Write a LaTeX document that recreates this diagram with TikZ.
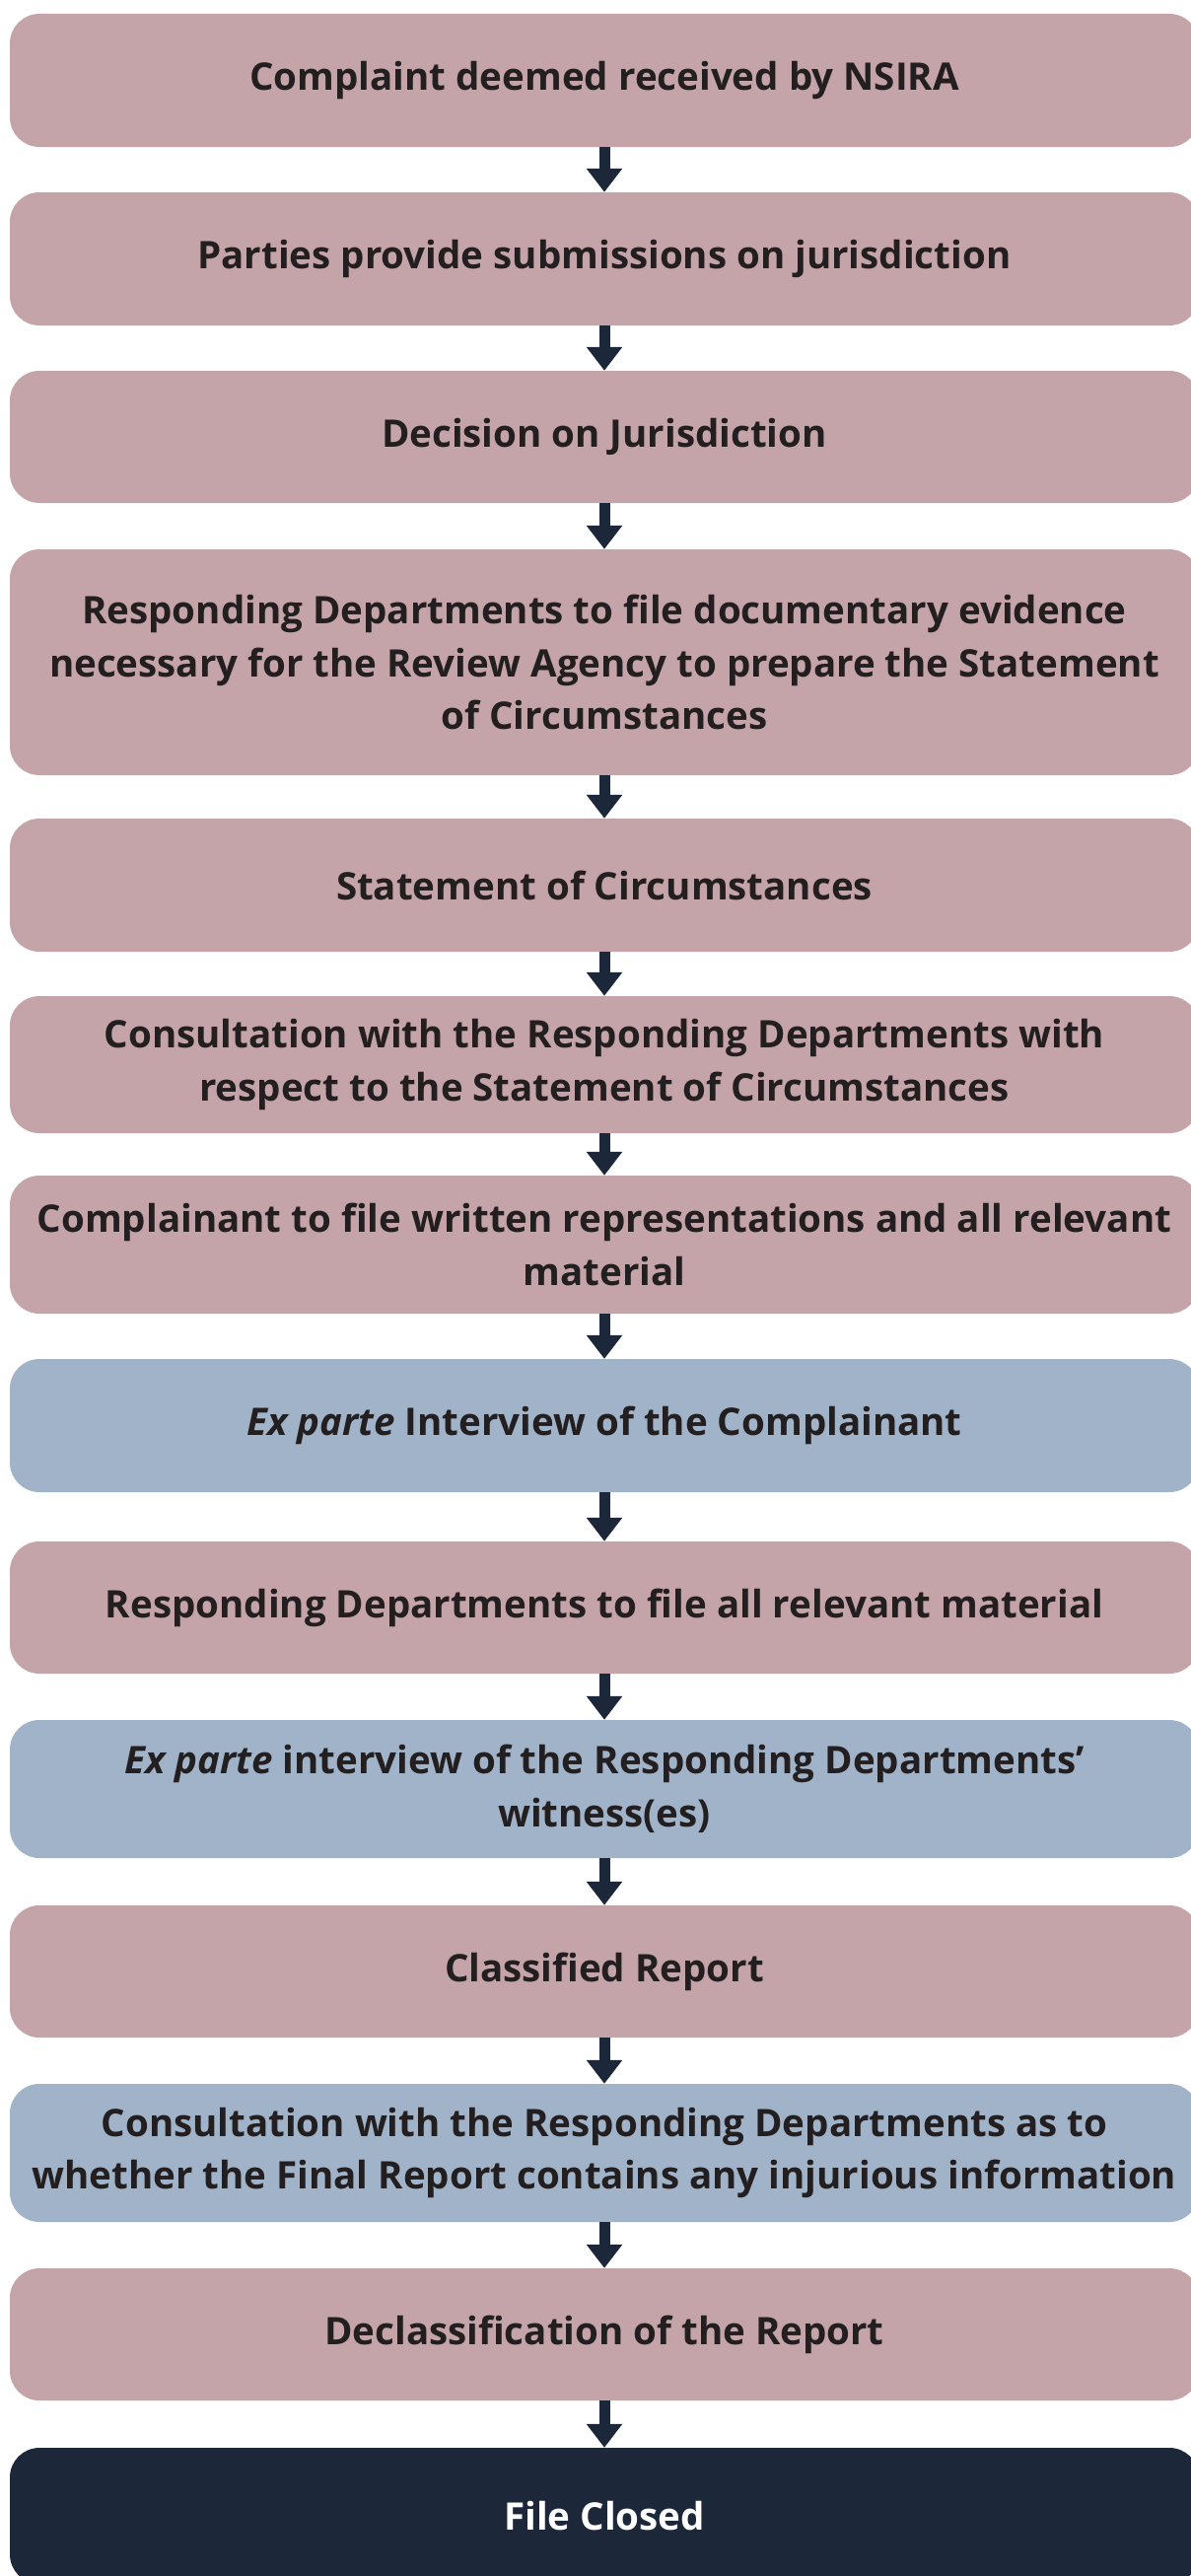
\documentclass[tikz,border=0pt]{standalone}
\usepackage{fontspec}
\setmainfont[Ligatures=NoCommon]{Open Sans}
\usetikzlibrary{arrows.meta}
\definecolor{pinkbox}{HTML}{C4A3A9}
\definecolor{bluebox}{HTML}{A1B3C8}
\definecolor{navy}{HTML}{1C2739}
\definecolor{txt}{HTML}{231F20}
\tikzset{
  stage/.style={fill=pinkbox, rounded corners=30pt, minimum width=1206pt, inner sep=0pt,
    align=center, text=txt, font=\fontsize{38.5}{53.5}\selectfont\bfseries},
  bstage/.style={stage, fill=bluebox},
  endstage/.style={stage, fill=navy, text=white},
  flowarrow/.style={draw=navy, line width=11pt, -{Triangle[width=35pt,length=24pt]}}
}
\begin{document}
\begin{tikzpicture}[x=1pt,y=-1pt]
\useasboundingbox (0,0) rectangle (1207,2612);
\node[stage, minimum height=135pt] (n1) at (613,81.5) {Complaint deemed received by NSIRA};
\node[stage, minimum height=135pt] (n2) at (613,262.5) {Parties provide submissions on jurisdiction};
\node[stage, minimum height=134pt] (n3) at (613,443) {Decision on Jurisdiction};
\node[stage, minimum height=229pt] (n4) at (613,671.5) {Responding Departments to file documentary evidence\\ necessary for the Review Agency to prepare the Statement\\ of Circumstances};
\node[stage, minimum height=135pt] (n5) at (613,897.5) {Statement of Circumstances};
\node[stage, minimum height=139pt] (n6) at (613,1079.5) {Consultation with the Responding Departments with\\ respect to the Statement of Circumstances};
\node[stage, minimum height=140pt] (n7) at (613,1262) {Complainant to file written representations and all relevant\\ material};
\node[bstage, minimum height=135pt] (n8) at (613,1445.5) {\textit{Ex parte} Interview of the Complainant};
\node[stage, minimum height=134pt] (n9) at (613,1630) {Responding Departments to file all relevant material};
\node[bstage, minimum height=140pt] (n10) at (613,1814) {\textit{Ex parte} interview of the Responding Departments’\\ witness(es)};
\node[stage, minimum height=134pt] (n11) at (613,1999) {Classified Report};
\node[bstage, minimum height=140pt] (n12) at (613,2183) {Consultation with the Responding Departments as to\\ whether the Final Report contains any injurious information};
\node[stage, minimum height=134pt] (n13) at (613,2367) {Declassification of the Report};
\node[endstage, minimum height=138pt] (n14) at (613,2551) {File Closed};
\foreach \a/\b in {n1/n2,n2/n3,n3/n4,n4/n5,n5/n6,n6/n7,n7/n8,n8/n9,n9/n10,n10/n11,n11/n12,n12/n13,n13/n14}
  \draw[flowarrow] (\a.south) -- (\b.north);
\end{tikzpicture}
\end{document}
